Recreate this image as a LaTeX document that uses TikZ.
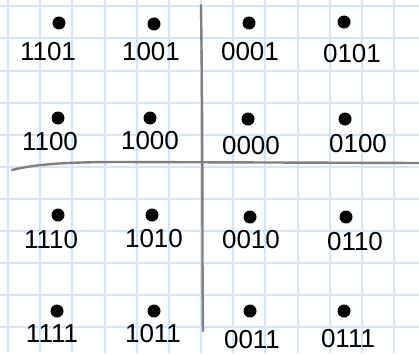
\documentclass[tikz,border=0pt]{standalone}
\usepackage{fontspec}
\setmainfont{Liberation Sans}
\definecolor{gridblue}{RGB}{204,232,250}
\definecolor{axisgrey}{RGB}{128,128,128}
\tikzset{
  gridline/.style={draw=gridblue, line width=2pt},
  axis/.style={draw=axisgrey, line width=2.4pt, line cap=round},
  dot/.style={circle, fill=black, inner sep=0pt, minimum size=13pt},
  bits/.style={font=\fontsize{26}{26}\selectfont, inner sep=0pt, text=black},
}

\begin{document}
\begin{tikzpicture}[x=1pt,y=-1pt]
\fill[white] (0,0) rectangle (419,353);
\useasboundingbox (0,0) rectangle (419,353);

% ---- Graph paper ----------------------------------------------------------
\foreach \k in {0,...,12}
  \draw[gridline] ({8+32.17*\k},0) -- ({8+32.17*\k},353);
\foreach \k in {0,...,10}
  \draw[gridline] (0,{6.5+32*\k}) -- (419,{6.5+32*\k});

% ---- Axes (hand drawn) ----------------------------------------------------
\draw[axis] (201,5) .. controls (203,150) and (202,250) .. (203,331);
\draw[axis] (12,170) .. controls (35,164) and (70,162) .. (120,162) -- (419,163);

% ---- Constellation points and their Gray codes ----------------------------
% code / dot x / dot y / label shift x / label shift y
\foreach \c/\x/\y/\dx/\dy in {
    1101/59/23/-11/29,  1001/154/24/-3/28,  0001/249/23/1/29,   0101/344/22/8/32,
    1100/58/118/-8/24,  1000/150/118/0/23,  0000/248/119/3/27,  0100/345/119/13/25,
    1110/58/215/-7/25,  1010/152/215/2/24,  0010/250/217/1/23,  0110/346/217/9/25,
    1111/57/311/-5/23,  1011/154/311/-1/23, 0011/250/311/2/29,  0111/344/311/4/28}
{
  \node[dot] (pt\c) at (\x,\y) {};
  \node[bits] (lb\c) at ([shift={(\dx,\dy)}]pt\c) {\c};
}

\end{tikzpicture}
\end{document}
